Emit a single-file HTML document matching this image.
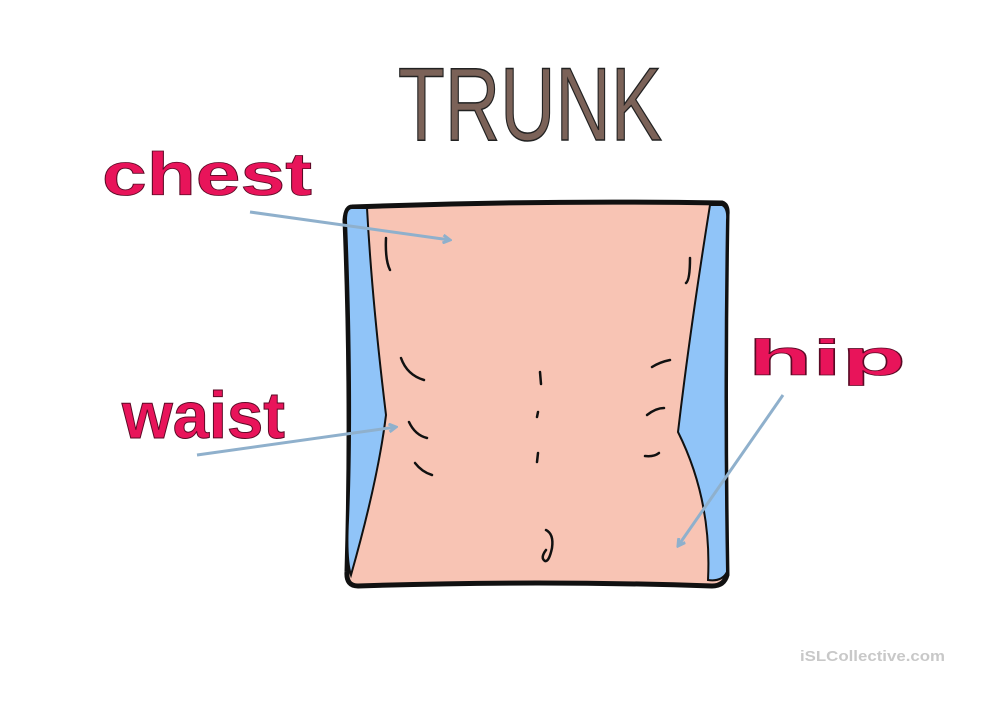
<!DOCTYPE html>
<html><head><style>html,body{margin:0;padding:0;background:#fff}svg{display:block}</style></head>
<body>
<svg width="1000" height="707" viewBox="0 0 1000 707" xmlns="http://www.w3.org/2000/svg">
<defs>
<marker id="ah" markerWidth="10" markerHeight="10" refX="8" refY="5" orient="auto" markerUnits="userSpaceOnUse">
<path d="M1,1 L8,5 L1,9" fill="none" stroke="#8fb0cc" stroke-width="3"/>
</marker>
</defs>
<text x="398" y="140" font-family="Liberation Sans, sans-serif" font-size="104" fill="#7b6258" stroke="#222" stroke-width="1.5" textLength="264" lengthAdjust="spacingAndGlyphs">TRUNK</text>
<text x="102" y="195" font-family="Liberation Sans, sans-serif" font-weight="bold" font-size="60" fill="#e8145a" stroke="#5a0a25" stroke-width="0.8" textLength="210" lengthAdjust="spacingAndGlyphs">chest</text>
<text x="122" y="438" font-family="Liberation Sans, sans-serif" font-weight="bold" font-size="66" fill="#e8145a" stroke="#5a0a25" stroke-width="1" textLength="163" lengthAdjust="spacingAndGlyphs">waist</text>
<text x="748" y="375" font-family="Liberation Sans, sans-serif" font-weight="bold" font-size="50" fill="#e8145a" stroke="#5a0a25" stroke-width="0.8" textLength="158" lengthAdjust="spacingAndGlyphs">hip</text>
<path d="M352,207 Q540,200 722,203 Q728,205 727,215 Q724,400 727,575 Q724,586 712,586 Q540,580 358,586 Q346,586 347,572 Q352,400 345,220 Q346,207 352,207 Z" fill="#f8c4b4" stroke="#111" stroke-width="5"/>
<path d="M352,208 L367,208 Q372,300 386,415 Q378,480 351,575 Q346,560 348,520 Q353,400 346,220 Q346,208 352,208 Z" fill="#90c4f8" stroke="#111" stroke-width="2"/>
<path d="M710,205 L722,205 Q728,208 727,220 Q724,400 727,572 Q722,582 708,580 Q712,500 678,432 Q690,330 710,205 Z" fill="#90c4f8" stroke="#111" stroke-width="2"/>
<g fill="none" stroke="#111" stroke-width="2.5" stroke-linecap="round">
<path d="M386,238 Q385,260 390,270"/>
<path d="M690,258 Q690,280 686,283"/>
<path d="M401,358 Q407,375 424,380"/>
<path d="M409,422 Q415,435 427,438"/>
<path d="M415,463 Q422,472 432,475"/>
<path d="M540,372 L541,384"/>
<path d="M538,412 L537,417"/>
<path d="M538,453 L537,462"/>
<path d="M652,367 Q660,362 670,360"/>
<path d="M647,415 Q656,408 664,408"/>
<path d="M645,456 Q654,457 659,453"/>
<path d="M546,530 Q554,534 552,548 Q549,562 545,561 Q540,558 546,550"/>
</g>
<g stroke="#8fb0cc" stroke-width="3" fill="none">
<line x1="250" y1="212" x2="450" y2="240" marker-end="url(#ah)"/>
<line x1="197" y1="455" x2="396" y2="427" marker-end="url(#ah)"/>
<line x1="783" y1="395" x2="678" y2="546" marker-end="url(#ah)"/>
</g>
<text x="800" y="661" font-family="Liberation Sans, sans-serif" font-weight="bold" font-size="15" fill="#c8c8c8" textLength="145" lengthAdjust="spacingAndGlyphs">iSLCollective.com</text>
</svg>
</body></html>
